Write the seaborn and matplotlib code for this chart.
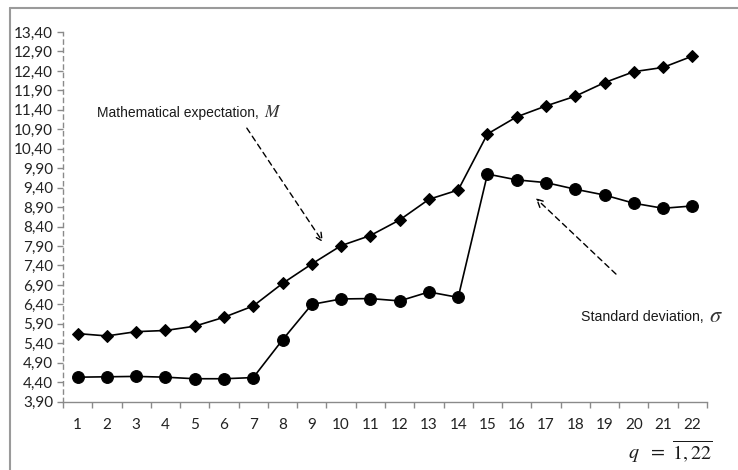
import matplotlib
matplotlib.use("Agg")
import matplotlib.pyplot as plt
from matplotlib.lines import Line2D
from matplotlib.ticker import FuncFormatter, FixedLocator
import numpy as np
import pandas as pd
import seaborn as sns

# Sample index q = 1..22
q = list(range(1, 23))

# Mathematical expectation M for each q
expectation = [5.65, 5.59, 5.70, 5.73, 5.84, 6.07, 6.36, 6.94, 7.44, 7.91, 8.17,
               8.57, 9.10, 9.34, 10.78, 11.22, 11.50, 11.75, 12.10, 12.38, 12.49, 12.78]

# Standard deviation sigma for each q
std_dev = [4.53, 4.54, 4.55, 4.53, 4.49, 4.49, 4.52, 5.49, 6.40, 6.54, 6.55,
           6.49, 6.72, 6.58, 9.75, 9.60, 9.53, 9.36, 9.21, 9.00, 8.87, 8.93]

y_ticks = [3.90 + 0.5 * i for i in range(20)]

sns.set_style("white")
plt.rcParams["font.family"] = ["Lato", "DejaVu Sans"]
plt.rcParams["mathtext.fontset"] = "stix"

df = pd.DataFrame({"q": q, "M": expectation, "sigma": std_dev})

fig = plt.figure(figsize=(7.38, 4.70), dpi=100)
ax = fig.add_axes([63 / 738, (470 - 401.7) / 470, (707 - 63) / 738, (401.7 - 32) / 470])

sns.lineplot(data=df, x="q", y="M", ax=ax, color="black", linewidth=1.2,
             marker="D", markersize=6, markeredgecolor="black", markerfacecolor="black")
sns.lineplot(data=df, x="q", y="sigma", ax=ax, color="black", linewidth=1.2,
             marker="o", markersize=8.5, markeredgecolor="black", markerfacecolor="black")

ax.set_xlim(0.5, 22.5)
ax.set_ylim(3.90, 13.40)
ax.set_xlabel("")
ax.set_ylabel("")

# Axes styling
axis_grey = "#8a8a8a"
for s in ["top", "right"]:
    ax.spines[s].set_visible(False)
ax.spines["left"].set_color(axis_grey)
ax.spines["left"].set_linestyle((0, (3, 3)))
ax.spines["left"].set_linewidth(1.0)
ax.spines["bottom"].set_color(axis_grey)
ax.spines["bottom"].set_linewidth(1.0)

ax.yaxis.set_major_locator(FixedLocator(y_ticks))
ax.yaxis.set_major_formatter(FuncFormatter(lambda v, p: f"{v:.2f}".replace(".", ",")))
ax.tick_params(axis="y", direction="out", length=4, width=1, color=axis_grey,
               labelsize=11, labelcolor="#222222", pad=3, left=True)

ax.xaxis.set_major_locator(FixedLocator(q))
ax.xaxis.set_minor_locator(FixedLocator([i + 0.5 for i in range(0, 23)]))
ax.tick_params(axis="x", which="major", length=0, labelsize=11, labelcolor="#222222", pad=12)
ax.tick_params(axis="x", which="minor", direction="out", length=4, width=1, color=axis_grey, bottom=True)

# Annotations with dashed arrows
arrow_kw = dict(arrowstyle="->", linestyle=(0, (4, 3)), color="black", lw=1.0,
                shrinkA=0, shrinkB=0, mutation_scale=14)
ax.annotate("", xy=(9.38, 8.00), xytext=(6.78, 10.93), xycoords="data", arrowprops=arrow_kw)
ax.annotate("", xy=(16.65, 9.13), xytext=(19.39, 7.18), xycoords="data", arrowprops=arrow_kw)

label_m = ax.text(1.66, 11.32, "Mathematical expectation,", fontsize=10,
                  family="Liberation Sans", color="#1a1a1a", va="center", ha="left")
ax.annotate(r"$M$", xy=(1, 0.5), xycoords=label_m, xytext=(4, 0.5),
            textcoords="offset points", fontsize=12.5, color="#333333", va="center", ha="left")

label_s = ax.text(18.19, 6.08, "Standard deviation,", fontsize=10.2,
                  family="Liberation Sans", color="#1a1a1a", va="center", ha="left")
ax.annotate(r"$\sigma$", xy=(1, 0.5), xycoords=label_s, xytext=(4, 0.5),
            textcoords="offset points", fontsize=16, color="#333333", va="center", ha="left")

fig.text(628 / 738, (470 - 452) / 470, r"$q\ \ =\ \overline{1,22}$", fontsize=14.5,
         ha="left", va="center", color="#1a1a1a")

# Outer frame (top and left edges)
frame_col = "#9a9a9a"
top_y = (470 - 8) / 470
left_x = 10 / 738
fig.add_artist(Line2D([left_x, 1.0], [top_y, top_y], color=frame_col, lw=1.5, transform=fig.transFigure))
fig.add_artist(Line2D([left_x, left_x], [0.0, top_y], color=frame_col, lw=1.5, transform=fig.transFigure))

fig.savefig("out.png", dpi=100)
